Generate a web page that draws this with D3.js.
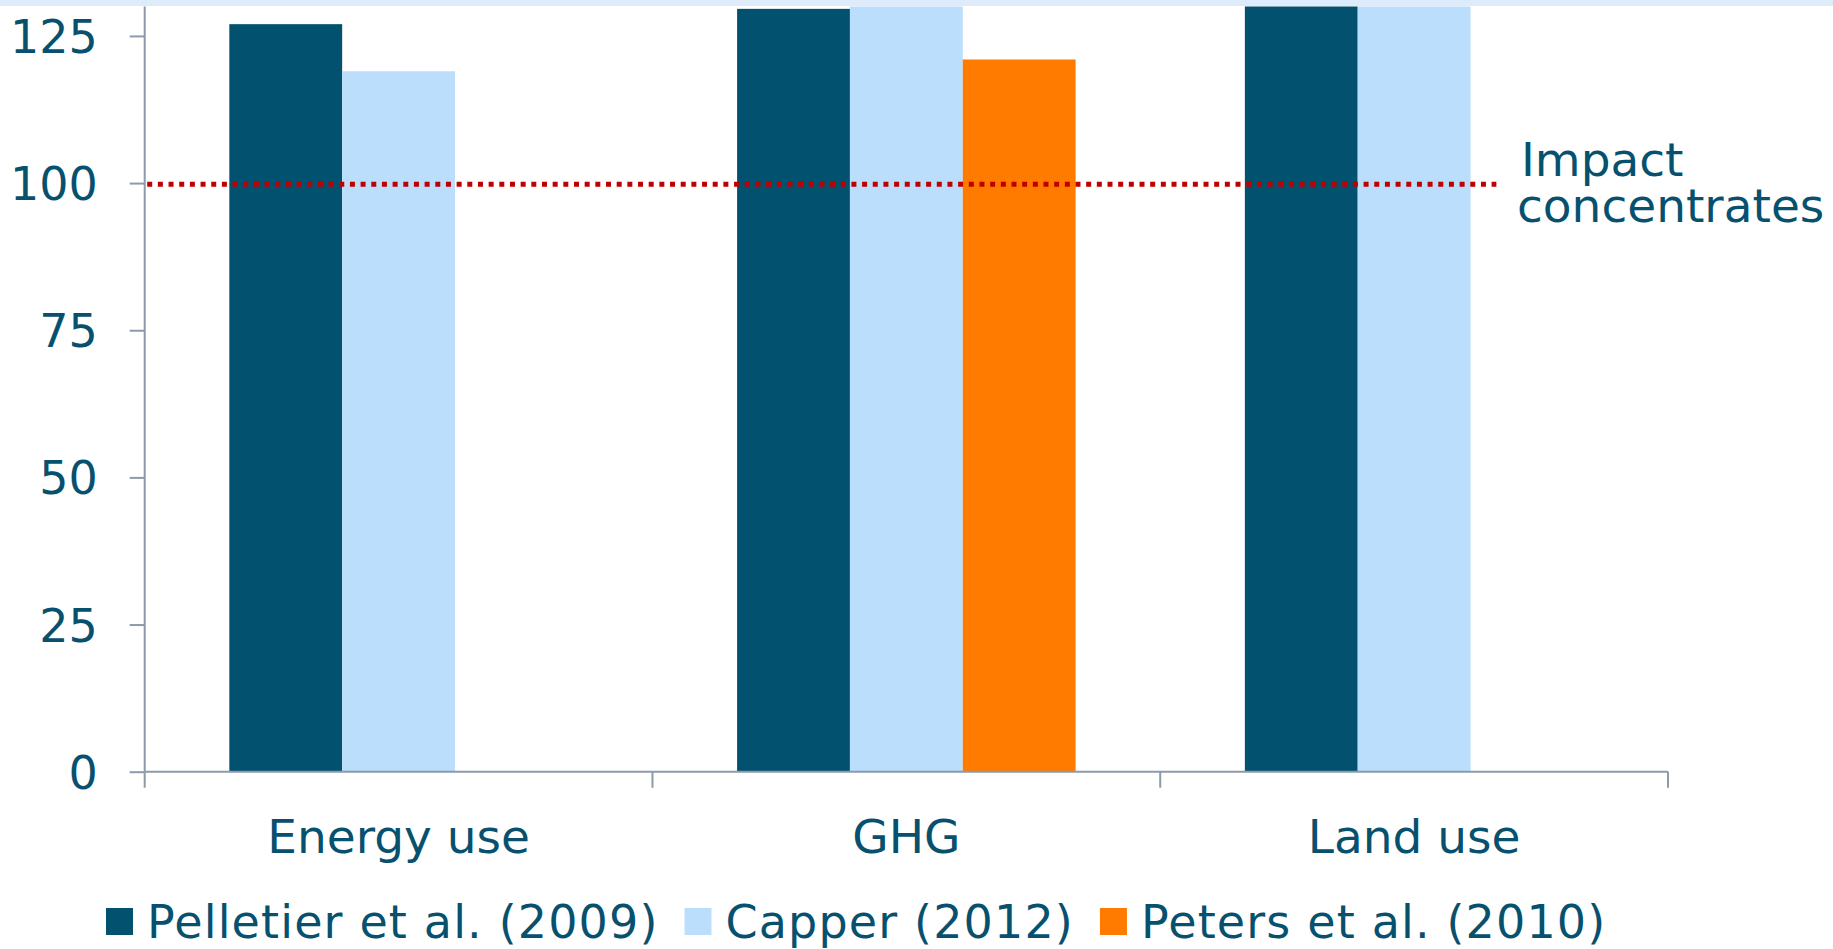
<!DOCTYPE html>
<html>
<head>
<meta charset="utf-8">
<script src="https://cdn.jsdelivr.net/npm/d3@7"></script>
<style>
  html, body { margin: 0; padding: 0; background: #ffffff; }
  svg { display: block; font-family: "DejaVu Sans", Verdana, sans-serif; }
</style>
</head>
<body>
<svg id="chart" width="1833" height="949"></svg>
<script>
// Impact index per study and category (100 = impact concentrates)
const categories = ["Energy use", "GHG", "Land use"];
const seriesNames = ["Pelletier et al. (2009)", "Capper (2012)", "Peters et al. (2010)"];
const pelletier = [127, 129.6, 150];
const capper = [119, 136, 141];
const peters = [null, 121, null];
const seriesValues = [pelletier, capper, peters];
const seriesColors = ["#02516f", "#bbdefd", "#ff7b00"];
const yTicks = [0, 25, 50, 75, 100, 125];
const refValue = 100;
const refLabel = ["Impact", "concentrates"];

const textColor = "#07516f";
const axisColor = "#8c9aaa";
const fontSize = 46;

const svg = d3.select("#chart");
const W = 1833, H = 949;
const plot = { left: 144.7, right: 1668, top: 6.5, bottom: 771.7 };

const x0 = d3.scaleBand().domain(categories).range([plot.left, plot.right]).padding(0);
const x1 = d3.scaleBand().domain(seriesNames)
  .range([x0.bandwidth() / 6, x0.bandwidth() * 5 / 6]).padding(0);
const y = d3.scaleLinear().domain([0, 130]).range([plot.bottom, plot.top]);

// clip bars at the top of the value range
svg.append("defs").append("clipPath").attr("id", "plotClip")
  .append("rect").attr("x", plot.left).attr("y", plot.top)
  .attr("width", plot.right - plot.left).attr("height", plot.bottom - plot.top);

const rows = [];
categories.forEach((c, i) => {
  seriesNames.forEach((s, j) => {
    const v = seriesValues[j][i];
    if (v != null) rows.push({ cat: c, series: s, value: v, color: seriesColors[j] });
  });
});

svg.append("g").attr("clip-path", "url(#plotClip)")
  .selectAll("rect").data(rows).join("rect")
  .attr("x", d => x0(d.cat) + x1(d.series))
  .attr("width", x1.bandwidth())
  .attr("y", d => y(d.value))
  .attr("height", d => y(0) - y(d.value))
  .attr("fill", d => d.color);

// y axis
const yAxis = svg.append("g").attr("transform", `translate(${plot.left},0)`)
  .call(d3.axisLeft(y).tickValues(yTicks).tickSize(15).tickPadding(32).tickFormat(d3.format("d")));
yAxis.select(".domain").remove();
yAxis.selectAll(".tick line").attr("stroke", axisColor).attr("stroke-width", 2);
yAxis.selectAll(".tick text").attr("fill", textColor).attr("font-size", fontSize)
  .attr("font-family", "DejaVu Sans, Verdana, sans-serif").attr("dy", "0.36em");
yAxis.append("line").attr("x1", 0).attr("x2", 0).attr("y1", plot.top).attr("y2", plot.bottom + 16)
  .attr("stroke", axisColor).attr("stroke-width", 2);

// x axis with category dividers
const xAxis = svg.append("g").attr("transform", `translate(0,${plot.bottom})`);
xAxis.append("line").attr("x1", plot.left).attr("x2", plot.right).attr("y1", 0).attr("y2", 0)
  .attr("stroke", axisColor).attr("stroke-width", 2);
const dividers = categories.map(c => x0(c)).concat([x0(categories[categories.length - 1]) + x0.bandwidth()]);
xAxis.selectAll("line.div").data(dividers.slice(1)).join("line").attr("class", "div")
  .attr("x1", d => d).attr("x2", d => d).attr("y1", 0).attr("y2", 16)
  .attr("stroke", axisColor).attr("stroke-width", 2);
xAxis.selectAll("text").data(categories).join("text")
  .attr("x", d => x0(d) + x0.bandwidth() / 2).attr("y", 81)
  .attr("text-anchor", "middle").attr("fill", textColor).attr("font-size", fontSize + 1)
  .text(d => d);

// reference line at 100
const refEnd = x0("Land use") + x0.bandwidth() * 0.662;
svg.append("line")
  .attr("x1", plot.left + 2.5).attr("x2", refEnd)
  .attr("y1", y(refValue) + 1.2).attr("y2", y(refValue) + 1.2)
  .attr("stroke", "#c00000").attr("stroke-width", 5)
  .attr("stroke-dasharray", "5 5.67");

const note = svg.append("text").attr("fill", textColor).attr("font-size", fontSize + 1);
note.selectAll("tspan").data(refLabel).join("tspan")
  .attr("x", 1517).attr("y", (d, i) => 176 + i * 45.7)
  .text(d => d);
note.select("tspan").attr("dx", 4);

// legend
const legend = svg.append("g").attr("transform", "translate(106,0)");
let cursor = 0;
seriesNames.forEach((s, j) => {
  const g = legend.append("g").attr("transform", `translate(${cursor},0)`);
  g.append("rect").attr("x", 0).attr("y", 908).attr("width", 27).attr("height", 27)
    .attr("fill", seriesColors[j]);
  const t = g.append("text").attr("x", 41).attr("y", 938)
    .attr("fill", textColor).attr("font-size", fontSize).attr("letter-spacing", 1.15)
    .text(s);
  cursor += 41 + t.node().getComputedTextLength() + 26;
});

// thin band across the top edge
svg.append("rect").attr("x", 0).attr("y", 0).attr("width", W).attr("height", 6)
  .attr("fill", "#deebfa");
</script>
</body>
</html>
